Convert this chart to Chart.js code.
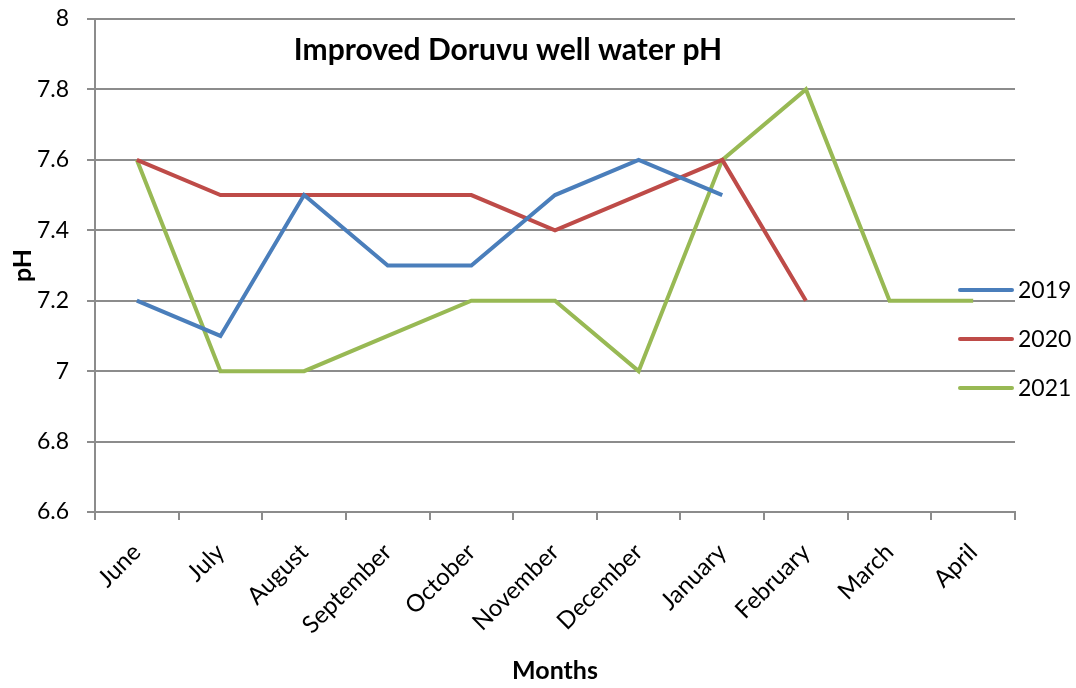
<!DOCTYPE html>
<html>
<head>
<meta charset="utf-8">
<script src="https://cdn.jsdelivr.net/npm/chart.js@4.4.1/dist/chart.umd.min.js"></script>
<style>
  html, body { margin: 0; padding: 0; background: #fff; }
  #wrap { width: 1076px; height: 688px; position: relative; }
</style>
</head>
<body>
<div id="wrap"><canvas id="myChart"></canvas></div>
<script>
// months on the x axis
const months = ['June', 'July', 'August', 'September', 'October', 'November',
  'December', 'January', 'February', 'March', 'April'];

// pH readings per year (null = no reading)
const ph2019 = [7.2, 7.1, 7.5, 7.3, 7.3, 7.5, 7.6, 7.5, null, null, null];
const ph2020 = [7.6, 7.5, 7.5, 7.5, 7.5, 7.4, 7.5, 7.6, 7.2, null, null];
const ph2021 = [7.6, 7.0, 7.0, 7.1, 7.2, 7.2, 7.0, 7.6, 7.8, 7.2, 7.2];

const chartTitle = 'Improved Doruvu well water pH';
const yTitle = 'pH';
const xTitle = 'Months';

const FONT = 'Lato, "Open Sans", sans-serif';
const GRID = '#8c8c8c';

function lineSet(label, data, color) {
  return {
    label: label,
    data: data,
    borderColor: color,
    backgroundColor: color,
    borderWidth: 4,
    fill: false,
    tension: 0,
    pointRadius: 0,
    pointHoverRadius: 0,
    spanGaps: false
  };
}

// title + legend drawn on top of the plot, like the original
const overlay = {
  id: 'overlay',
  afterDraw(chart) {
    const c = chart.ctx;
    c.save();
    c.fillStyle = '#000';
    c.font = 'bold 30px ' + FONT;
    c.textAlign = 'center';
    c.textBaseline = 'middle';
    c.fillText(chartTitle, 508, 50);

    c.font = '23px ' + FONT;
    c.textAlign = 'left';
    chart.data.datasets.forEach((ds, k) => {
      const y = 290 + k * 49;
      c.strokeStyle = ds.borderColor;
      c.lineWidth = 4;
      c.lineCap = 'round';
      c.beginPath();
      c.moveTo(960, y);
      c.lineTo(1012, y);
      c.stroke();
      c.fillText(ds.label, 1018, y + 1);
    });
    c.restore();
  }
};

const ctx = document.getElementById('myChart');

const myChart = new Chart(ctx, {
  type: 'line',
  data: {
    labels: months,
    datasets: [
      lineSet('2019', ph2019, '#4a7ebb'),
      lineSet('2020', ph2020, '#be4b48'),
      lineSet('2021', ph2021, '#98b954')
    ]
  },
  options: {
    responsive: true,
    maintainAspectRatio: false,
    animation: false,
    layout: { padding: { left: 0, right: 61, top: 19, bottom: 0 } },
    plugins: {
      legend: { display: false },
      tooltip: { enabled: false }
    },
    scales: {
      x: {
        offset: true,
        afterFit: (s) => {
          s.height = 176;
          s.paddingLeft = 0;
          s.paddingRight = 0;
        },
        grid: {
          drawOnChartArea: false,
          drawTicks: true,
          tickLength: 8,
          color: GRID,
          lineWidth: 2,
          offset: true
        },
        border: { color: GRID, width: 2 },
        ticks: {
          autoSkip: false,
          minRotation: 45,
          maxRotation: 45,
          padding: 18,
          color: '#000',
          font: { family: FONT, size: 24 }
        },
        title: {
          display: true,
          text: xTitle,
          color: '#000',
          font: { family: FONT, size: 25, weight: 'bold' },
          padding: { top: 4, bottom: 2 }
        }
      },
      y: {
        min: 6.6,
        max: 8,
        afterFit: (s) => {
          s.width = 95;
          s.paddingTop = 0;
          s.paddingBottom = 0;
        },
        grid: {
          color: GRID,
          lineWidth: 2,
          tickLength: 8
        },
        border: { color: GRID, width: 2 },
        ticks: {
          stepSize: 0.2,
          padding: 18,
          color: '#000',
          font: { family: FONT, size: 23 },
          callback: (v) => Math.round(v * 10) / 10
        },
        title: {
          display: true,
          text: yTitle,
          color: '#000',
          font: { family: FONT, size: 25, weight: 'bold' },
          padding: { top: 8, bottom: 4 }
        }
      }
    }
  },
  plugins: [overlay]
});
</script>
</body>
</html>
